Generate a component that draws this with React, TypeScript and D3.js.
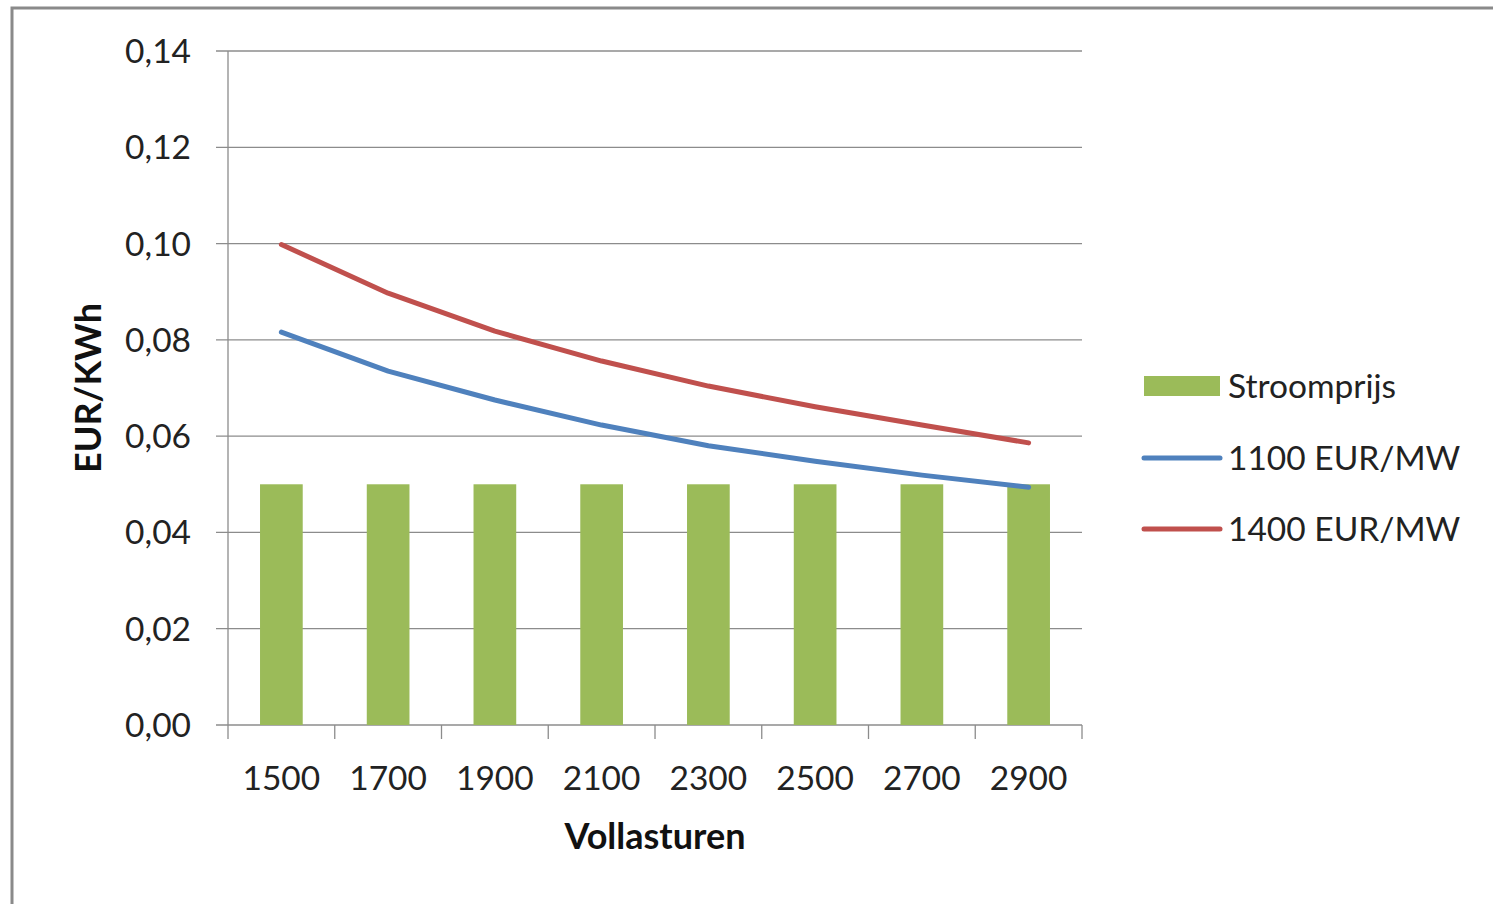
import React from 'react'
import * as d3 from 'd3'

const categories = ['1500', '1700', '1900', '2100', '2300', '2500', '2700', '2900']
const stroomprijs = [0.05, 0.05, 0.05, 0.05, 0.05, 0.05, 0.05, 0.05]
const eur1100 = [0.0816, 0.0735, 0.0675, 0.0623, 0.058, 0.0548, 0.0519, 0.0494]
const eur1400 = [0.0998, 0.0897, 0.0818, 0.0756, 0.0704, 0.0661, 0.0623, 0.0586]
const yTicks = [0, 0.02, 0.04, 0.06, 0.08, 0.1, 0.12, 0.14]

const W = 1493
const H = 904
const left = 228, right = 1082, top = 51, bottom = 725
const font = 'Lato, "Open Sans", sans-serif'
const fs = 33.5

const App = () => {
  const x = d3.scaleBand().domain(categories).range([left, right])
  const y = d3.scaleLinear().domain([0, 0.14]).range([bottom, top])
  const barW = x.bandwidth() * 0.4

  const line = d3.line<number>()
    .x((_, i) => x(categories[i])! + x.bandwidth() / 2)
    .y(d => y(d))

  const fmt = (v: number) => v.toFixed(2).replace('.', ',')
  const boundaries = categories.map(c => x(c)!).concat([right])

  return (
    <svg width={W} height={H} style={{ position: 'absolute', left: 0, top: 0, background: '#fff' }}>
      <rect x={12} y={8} width={W + 20} height={H + 20} fill="#fff" stroke="#8a8a8a" strokeWidth={3} />
      {yTicks.map(t => (
        <g key={t}>
          <line x1={left - 12} x2={right} y1={y(t)} y2={y(t)} stroke="#8c8c8c" strokeWidth={1.3} />
          <text x={191} y={y(t)} dy="0.36em" textAnchor="end" fontFamily={font} fontSize={fs} fill="#222">{fmt(t)}</text>
        </g>
      ))}
      <line x1={left} x2={left} y1={top} y2={bottom + 14} stroke="#8c8c8c" strokeWidth={1.3} />
      {boundaries.slice(1).map((b, i) => (
        <line key={i} x1={b} x2={b} y1={bottom} y2={bottom + 14} stroke="#8c8c8c" strokeWidth={1.3} />
      ))}
      {categories.map((c, i) => (
        <rect key={c} x={x(c)! + (x.bandwidth() - barW) / 2} width={barW} y={y(stroomprijs[i])} height={bottom - y(stroomprijs[i])} fill="#9BBB59" />
      ))}
      <path d={line(eur1100)!} fill="none" stroke="#4F81BD" strokeWidth={5} strokeLinecap="round" strokeLinejoin="round" />
      <path d={line(eur1400)!} fill="none" stroke="#C0504D" strokeWidth={5} strokeLinecap="round" strokeLinejoin="round" />
      {categories.map(c => (
        <text key={c} x={x(c)! + x.bandwidth() / 2} y={778} dy="0.36em" textAnchor="middle" fontFamily={font} fontSize={fs} fill="#222">{c}</text>
      ))}
      <text x={655} y={836} dy="0.36em" textAnchor="middle" fontFamily={font} fontSize={36} fontWeight="bold" fill="#111">Vollasturen</text>
      <text transform="translate(88,388) rotate(-90)" dy="0.36em" textAnchor="middle" fontFamily={font} fontSize={36} fontWeight="bold" fill="#111">EUR/KWh</text>
      <rect x={1144} y={376} width={76} height={20} fill="#9BBB59" />
      <text x={1228} y={386} dy="0.36em" fontFamily={font} fontSize={fs} fill="#222">Stroomprijs</text>
      <line x1={1144} x2={1220} y1={458} y2={458} stroke="#4F81BD" strokeWidth={5} strokeLinecap="round" />
      <text x={1228} y={458} dy="0.36em" fontFamily={font} fontSize={fs} fill="#222">1100 EUR/MW</text>
      <line x1={1144} x2={1220} y1={529} y2={529} stroke="#C0504D" strokeWidth={5} strokeLinecap="round" />
      <text x={1228} y={529} dy="0.36em" fontFamily={font} fontSize={fs} fill="#222">1400 EUR/MW</text>
    </svg>
  )
}

export default App
